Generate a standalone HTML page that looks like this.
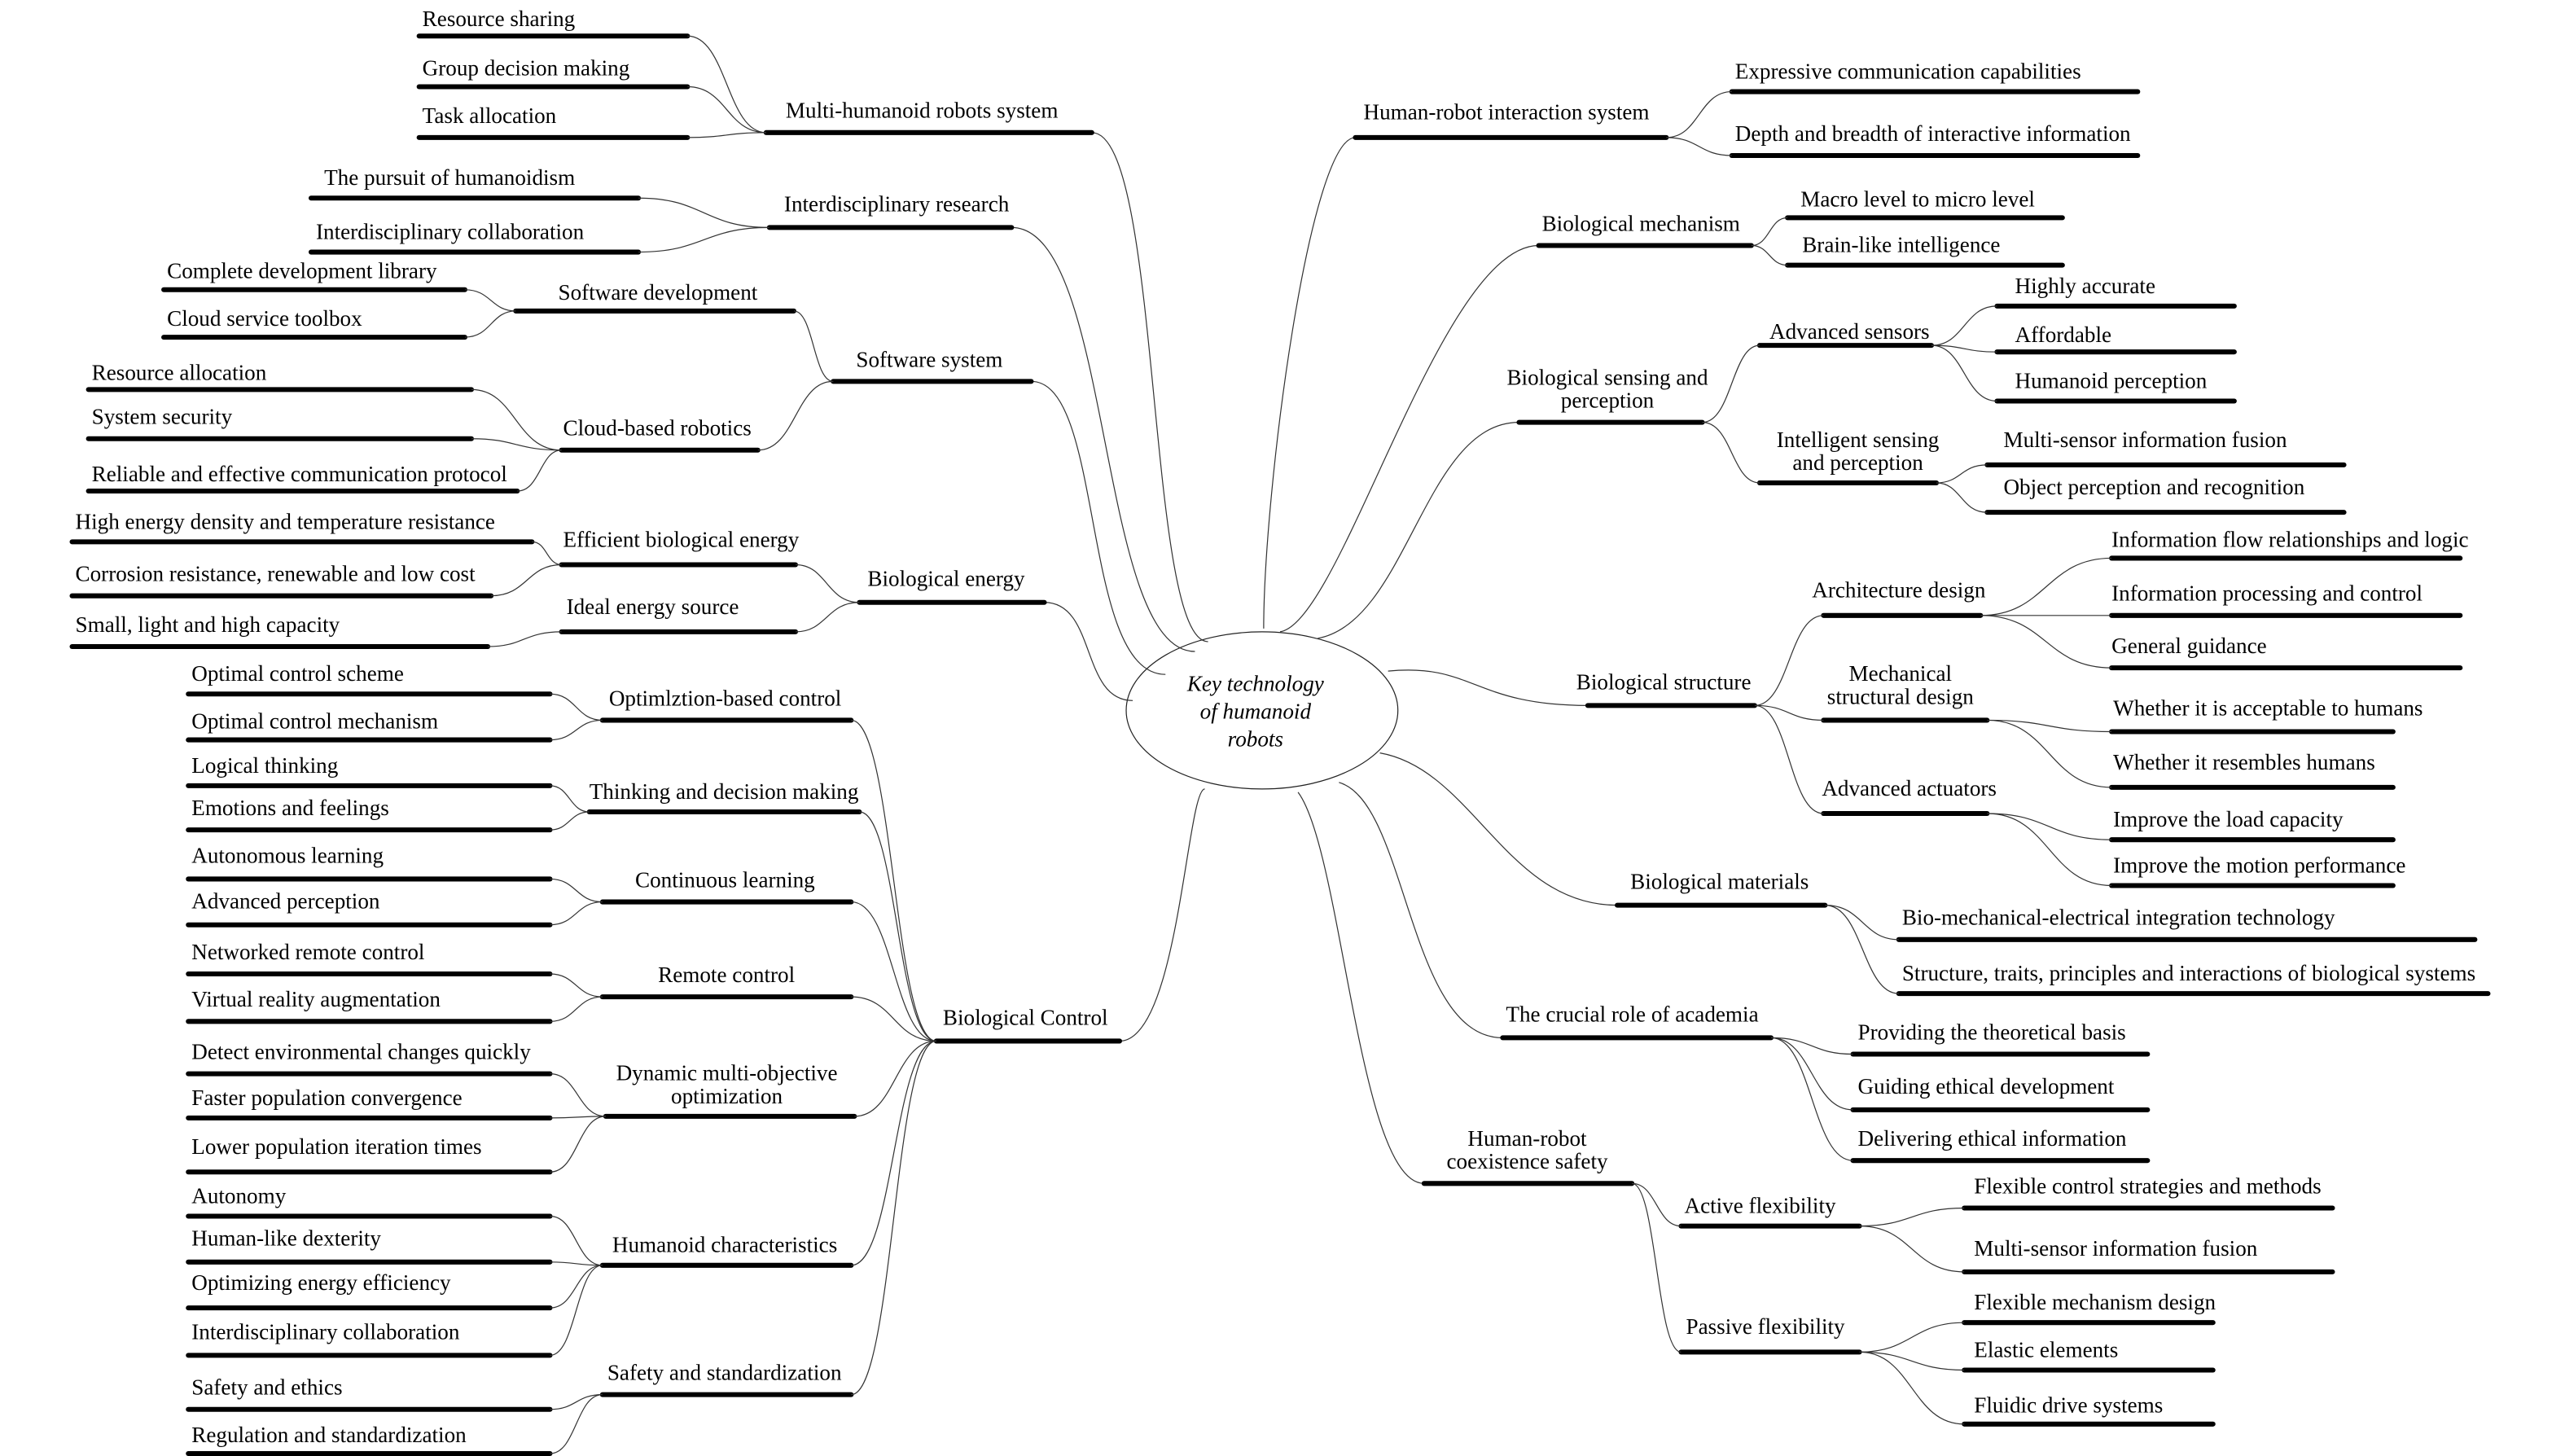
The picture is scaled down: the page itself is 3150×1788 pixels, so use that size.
<!DOCTYPE html>
<html><head><meta charset="utf-8"><style>
html,body{margin:0;padding:0;background:#fff;}
svg{display:block;}
text{font-family:"Liberation Serif",serif;font-size:13.5px;fill:#000;}
.u{stroke:#000;stroke-width:3;stroke-linecap:round;}
.c{fill:none;stroke:#333;stroke-width:0.6;}
.m{text-anchor:middle;}
</style></head><body>
<svg width="3150" height="1788" viewBox="0 0 1567 889.5" xmlns="http://www.w3.org/2000/svg">
<rect width="1567" height="889.5" fill="#fff"/>
<ellipse cx="771" cy="434" rx="83" ry="48" fill="none" stroke="#222" stroke-width="0.6"/>
<text x="767" y="422" class="m" font-style="italic">Key technology</text>
<text x="767" y="439" class="m" font-style="italic">of humanoid</text>
<text x="767" y="456" class="m" font-style="italic">robots</text>

<!-- center connectors -->
<path class="c" d="M667 81 C710 81,700 392,738 392"/>
<path class="c" d="M618 139 C680 139,670 398,730 398"/>
<path class="c" d="M630 233 C675 233,660 412,712 412"/>
<path class="c" d="M638 368 C670 368,660 428,692 428"/>
<path class="c" d="M684 636 C720 636,725 482,736 482"/>
<path class="c" d="M772 384 C772 300,800 84,828 84"/>
<path class="c" d="M782 386 C820 380,880 150,940 150"/>
<path class="c" d="M805 390 C860 380,870 258,928 258"/>
<path class="c" d="M848 410 C900 405,900 431,970 431"/>
<path class="c" d="M843 460 C900 470,920 553,988 553"/>
<path class="c" d="M818 478 C860 490,860 634,918 634"/>
<path class="c" d="M793 484 C820 520,830 723,870 723"/>

<!-- Multi-humanoid -->
<line class="u" x1="256" y1="22" x2="420" y2="22"/><text x="258" y="16">Resource sharing</text>
<line class="u" x1="256" y1="53" x2="420" y2="53"/><text x="258" y="46">Group decision making</text>
<line class="u" x1="256" y1="84" x2="420" y2="84"/><text x="258" y="75">Task allocation</text>
<line class="u" x1="468" y1="81" x2="667" y2="81"/><text x="480" y="72">Multi-humanoid robots system</text>
<path class="c" d="M420 22 C444 22,444 81,468 81"/><path class="c" d="M420 53 C444 53,444 81,468 81"/><path class="c" d="M420 84 C444 84,444 81,468 81"/>

<!-- Interdisciplinary research -->
<line class="u" x1="190" y1="121" x2="390" y2="121"/><text x="198" y="113">The pursuit of humanoidism</text>
<line class="u" x1="190" y1="154" x2="390" y2="154"/><text x="193" y="146">Interdisciplinary collaboration</text>
<line class="u" x1="470" y1="139" x2="618" y2="139"/><text x="479" y="129">Interdisciplinary research</text>
<path class="c" d="M390 121 C430 121,430 139,470 139"/><path class="c" d="M390 154 C430 154,430 139,470 139"/>

<!-- Software -->
<line class="u" x1="100" y1="177" x2="284" y2="177"/><text x="102" y="170">Complete development library</text>
<line class="u" x1="100" y1="206" x2="284" y2="206"/><text x="102" y="199">Cloud service toolbox</text>
<line class="u" x1="315" y1="190" x2="485" y2="190"/><text x="341" y="183">Software development</text>
<path class="c" d="M284 177 C300 177,300 190,315 190"/><path class="c" d="M284 206 C300 206,300 190,315 190"/>
<line class="u" x1="54" y1="238" x2="288" y2="238"/><text x="56" y="232">Resource allocation</text>
<line class="u" x1="54" y1="268" x2="288" y2="268"/><text x="56" y="259">System security</text>
<line class="u" x1="54" y1="300" x2="316" y2="300"/><text x="56" y="294">Reliable and effective communication protocol</text>
<line class="u" x1="343" y1="275" x2="463" y2="275"/><text x="344" y="266">Cloud-based robotics</text>
<path class="c" d="M288 238 C315 238,315 275,343 275"/><path class="c" d="M288 268 C315 268,315 275,343 275"/><path class="c" d="M316 300 C330 300,330 275,343 275"/>
<line class="u" x1="509" y1="233" x2="630" y2="233"/><text x="523" y="224">Software system</text>
<path class="c" d="M485 190 C497 190,497 233,509 233"/><path class="c" d="M463 275 C486 275,486 233,509 233"/>

<!-- Biological energy -->
<line class="u" x1="44" y1="331" x2="325" y2="331"/><text x="46" y="323">High energy density and temperature resistance</text>
<line class="u" x1="44" y1="364" x2="300" y2="364"/><text x="46" y="355">Corrosion resistance, renewable and low cost</text>
<line class="u" x1="44" y1="395" x2="298" y2="395"/><text x="46" y="386">Small, light and high capacity</text>
<line class="u" x1="343" y1="345" x2="486" y2="345"/><text x="344" y="334">Efficient biological energy</text>
<line class="u" x1="343" y1="386" x2="486" y2="386"/><text x="346" y="375">Ideal energy source</text>
<path class="c" d="M325 331 C334 331,334 345,343 345"/><path class="c" d="M300 364 C322 364,322 345,343 345"/><path class="c" d="M298 395 C320 395,320 386,343 386"/>
<line class="u" x1="525" y1="368" x2="638" y2="368"/><text x="530" y="358">Biological energy</text>
<path class="c" d="M486 345 C505 345,505 368,525 368"/><path class="c" d="M486 386 C505 386,505 368,525 368"/>

<!-- Biological control -->
<line class="u" x1="115" y1="424" x2="336" y2="424"/><text x="117" y="416">Optimal control scheme</text>
<line class="u" x1="115" y1="452" x2="336" y2="452"/><text x="117" y="445">Optimal control mechanism</text>
<line class="u" x1="368" y1="440" x2="520" y2="440"/><text x="372" y="431">Optimlztion-based control</text>
<path class="c" d="M336 424 C352 424,352 440,368 440"/><path class="c" d="M336 452 C352 452,352 440,368 440"/>
<line class="u" x1="115" y1="480" x2="336" y2="480"/><text x="117" y="472">Logical thinking</text>
<line class="u" x1="115" y1="507" x2="336" y2="507"/><text x="117" y="498">Emotions and feelings</text>
<line class="u" x1="360" y1="496" x2="525" y2="496"/><text x="360" y="488">Thinking and decision making</text>
<path class="c" d="M336 480 C348 480,348 496,360 496"/><path class="c" d="M336 507 C348 507,348 496,360 496"/>
<line class="u" x1="115" y1="537" x2="336" y2="537"/><text x="117" y="527">Autonomous learning</text>
<line class="u" x1="115" y1="565" x2="336" y2="565"/><text x="117" y="555">Advanced perception</text>
<line class="u" x1="368" y1="551" x2="520" y2="551"/><text x="388" y="542">Continuous learning</text>
<path class="c" d="M336 537 C352 537,352 551,368 551"/><path class="c" d="M336 565 C352 565,352 551,368 551"/>
<line class="u" x1="115" y1="595" x2="336" y2="595"/><text x="117" y="586">Networked remote control</text>
<line class="u" x1="115" y1="624" x2="336" y2="624"/><text x="117" y="615">Virtual reality augmentation</text>
<line class="u" x1="368" y1="609" x2="520" y2="609"/><text x="402" y="600">Remote control</text>
<path class="c" d="M336 595 C352 595,352 609,368 609"/><path class="c" d="M336 624 C352 624,352 609,368 609"/>
<line class="u" x1="115" y1="656" x2="336" y2="656"/><text x="117" y="647">Detect environmental changes quickly</text>
<line class="u" x1="115" y1="683" x2="336" y2="683"/><text x="117" y="675">Faster population convergence</text>
<line class="u" x1="115" y1="716" x2="336" y2="716"/><text x="117" y="705">Lower population iteration times</text>
<line class="u" x1="370" y1="682" x2="522" y2="682"/><text x="444" y="660" class="m">Dynamic multi-objective</text><text x="444" y="674" class="m">optimization</text>
<path class="c" d="M336 656 C353 656,353 682,370 682"/><path class="c" d="M336 683 C353 683,353 682,370 682"/><path class="c" d="M336 716 C353 716,353 682,370 682"/>
<line class="u" x1="115" y1="743" x2="336" y2="743"/><text x="117" y="735">Autonomy</text>
<line class="u" x1="115" y1="771" x2="336" y2="771"/><text x="117" y="761">Human-like dexterity</text>
<line class="u" x1="115" y1="799" x2="336" y2="799"/><text x="117" y="788">Optimizing energy efficiency</text>
<line class="u" x1="115" y1="828" x2="336" y2="828"/><text x="117" y="818">Interdisciplinary collaboration</text>
<line class="u" x1="368" y1="773" x2="520" y2="773"/><text x="374" y="765">Humanoid characteristics</text>
<path class="c" d="M336 743 C352 743,352 773,368 773"/><path class="c" d="M336 771 C352 771,352 773,368 773"/><path class="c" d="M336 799 C352 799,352 773,368 773"/><path class="c" d="M336 828 C352 828,352 773,368 773"/>
<line class="u" x1="115" y1="861" x2="336" y2="861"/><text x="117" y="852">Safety and ethics</text>
<line class="u" x1="115" y1="888" x2="336" y2="888"/><text x="117" y="881">Regulation and standardization</text>
<line class="u" x1="368" y1="852" x2="520" y2="852"/><text x="371" y="843">Safety and standardization</text>
<path class="c" d="M336 861 C352 861,352 852,368 852"/><path class="c" d="M336 888 C352 888,352 852,368 852"/>
<line class="u" x1="572" y1="636" x2="684" y2="636"/><text x="576" y="626">Biological Control</text>
<path class="c" d="M520 440 C546 440,546 636,572 636"/><path class="c" d="M525 496 C548 496,548 636,572 636"/><path class="c" d="M520 551 C546 551,546 636,572 636"/><path class="c" d="M520 609 C546 609,546 636,572 636"/><path class="c" d="M522 682 C547 682,547 636,572 636"/><path class="c" d="M520 773 C546 773,546 636,572 636"/><path class="c" d="M520 852 C546 852,546 636,572 636"/>

<!-- Right: HRI -->
<line class="u" x1="828" y1="84" x2="1018" y2="84"/><text x="833" y="73">Human-robot interaction system</text>
<line class="u" x1="1058" y1="56" x2="1306" y2="56"/><text x="1060" y="48">Expressive communication capabilities</text>
<line class="u" x1="1058" y1="95" x2="1306" y2="95"/><text x="1060" y="86">Depth and breadth of interactive information</text>
<path class="c" d="M1018 84 C1038 84,1038 56,1058 56"/><path class="c" d="M1018 84 C1038 84,1038 95,1058 95"/>

<line class="u" x1="940" y1="150" x2="1070" y2="150"/><text x="942" y="141">Biological mechanism</text>
<line class="u" x1="1092" y1="133" x2="1260" y2="133"/><text x="1100" y="126">Macro level to micro level</text>
<line class="u" x1="1092" y1="162" x2="1260" y2="162"/><text x="1101" y="154">Brain-like intelligence</text>
<path class="c" d="M1070 150 C1081 150,1081 133,1092 133"/><path class="c" d="M1070 150 C1081 150,1081 162,1092 162"/>

<line class="u" x1="928" y1="258" x2="1040" y2="258"/><text x="982" y="235" class="m">Biological sensing and</text><text x="982" y="249" class="m">perception</text>
<line class="u" x1="1075" y1="211" x2="1180" y2="211"/><text x="1081" y="207">Advanced sensors</text>
<line class="u" x1="1075" y1="295" x2="1183" y2="295"/><text x="1135" y="273" class="m">Intelligent sensing</text><text x="1135" y="287" class="m">and perception</text>
<path class="c" d="M1040 258 C1058 258,1058 211,1075 211"/><path class="c" d="M1040 258 C1058 258,1058 295,1075 295"/>
<line class="u" x1="1220" y1="187" x2="1365" y2="187"/><text x="1231" y="179">Highly accurate</text>
<line class="u" x1="1220" y1="215" x2="1365" y2="215"/><text x="1231" y="209">Affordable</text>
<line class="u" x1="1220" y1="245" x2="1365" y2="245"/><text x="1231" y="237">Humanoid perception</text>
<path class="c" d="M1180 211 C1200 211,1200 187,1220 187"/><path class="c" d="M1180 211 C1200 211,1200 215,1220 215"/><path class="c" d="M1180 211 C1200 211,1200 245,1220 245"/>
<line class="u" x1="1214" y1="284" x2="1432" y2="284"/><text x="1224" y="273">Multi-sensor information fusion</text>
<line class="u" x1="1214" y1="313" x2="1432" y2="313"/><text x="1224" y="302">Object perception and recognition</text>
<path class="c" d="M1183 295 C1198 295,1198 284,1214 284"/><path class="c" d="M1183 295 C1198 295,1198 313,1214 313"/>

<line class="u" x1="970" y1="431" x2="1072" y2="431"/><text x="963" y="421">Biological structure</text>
<line class="u" x1="1114" y1="376" x2="1210" y2="376"/><text x="1107" y="365">Architecture design</text>
<line class="u" x1="1114" y1="440" x2="1214" y2="440"/><text x="1161" y="416" class="m">Mechanical</text><text x="1161" y="430" class="m">structural design</text>
<line class="u" x1="1114" y1="497" x2="1214" y2="497"/><text x="1113" y="486">Advanced actuators</text>
<path class="c" d="M1072 431 C1093 431,1093 376,1114 376"/><path class="c" d="M1072 431 C1093 431,1093 440,1114 440"/><path class="c" d="M1072 431 C1093 431,1093 497,1114 497"/>
<line class="u" x1="1290" y1="341" x2="1503" y2="341"/><text x="1290" y="334">Information flow relationships and logic</text>
<line class="u" x1="1290" y1="376" x2="1503" y2="376"/><text x="1290" y="367">Information processing and control</text>
<line class="u" x1="1290" y1="408" x2="1503" y2="408"/><text x="1290" y="399">General guidance</text>
<path class="c" d="M1210 376 C1250 376,1250 341,1290 341"/><path class="c" d="M1210 376 L1290 376"/><path class="c" d="M1210 376 C1250 376,1250 408,1290 408"/>
<line class="u" x1="1290" y1="447" x2="1462" y2="447"/><text x="1291" y="437">Whether it is acceptable to humans</text>
<line class="u" x1="1290" y1="481" x2="1462" y2="481"/><text x="1291" y="470">Whether it resembles humans</text>
<path class="c" d="M1214 440 C1252 440,1252 447,1290 447"/><path class="c" d="M1214 440 C1252 440,1252 481,1290 481"/>
<line class="u" x1="1290" y1="513" x2="1462" y2="513"/><text x="1291" y="505">Improve the load capacity</text>
<line class="u" x1="1290" y1="541" x2="1462" y2="541"/><text x="1291" y="533">Improve the motion performance</text>
<path class="c" d="M1214 497 C1252 497,1252 513,1290 513"/><path class="c" d="M1214 497 C1252 497,1252 541,1290 541"/>

<line class="u" x1="988" y1="553" x2="1115" y2="553"/><text x="996" y="543">Biological materials</text>
<line class="u" x1="1160" y1="574" x2="1512" y2="574"/><text x="1162" y="565">Bio-mechanical-electrical integration technology</text>
<line class="u" x1="1160" y1="607" x2="1520" y2="607"/><text x="1162" y="599">Structure, traits, principles and interactions of biological systems</text>
<path class="c" d="M1115 553 C1138 553,1138 574,1160 574"/><path class="c" d="M1115 553 C1138 553,1138 607,1160 607"/>

<line class="u" x1="918" y1="634" x2="1082" y2="634"/><text x="920" y="624">The crucial role of academia</text>
<line class="u" x1="1132" y1="644" x2="1312" y2="644"/><text x="1135" y="635">Providing the theoretical basis</text>
<line class="u" x1="1132" y1="678" x2="1312" y2="678"/><text x="1135" y="668">Guiding ethical development</text>
<line class="u" x1="1132" y1="709" x2="1312" y2="709"/><text x="1135" y="700">Delivering ethical information</text>
<path class="c" d="M1082 634 C1107 634,1107 644,1132 644"/><path class="c" d="M1082 634 C1107 634,1107 678,1132 678"/><path class="c" d="M1082 634 C1107 634,1107 709,1132 709"/>

<line class="u" x1="870" y1="723" x2="997" y2="723"/><text x="933" y="700" class="m">Human-robot</text><text x="933" y="714" class="m">coexistence safety</text>
<line class="u" x1="1027" y1="749" x2="1136" y2="749"/><text x="1029" y="741">Active flexibility</text>
<line class="u" x1="1027" y1="826" x2="1136" y2="826"/><text x="1030" y="815">Passive flexibility</text>
<path class="c" d="M997 723 C1012 723,1012 749,1027 749"/><path class="c" d="M997 723 C1012 723,1012 826,1027 826"/>
<line class="u" x1="1200" y1="738" x2="1425" y2="738"/><text x="1206" y="729">Flexible control strategies and methods</text>
<line class="u" x1="1200" y1="777" x2="1425" y2="777"/><text x="1206" y="767">Multi-sensor information fusion</text>
<path class="c" d="M1136 749 C1168 749,1168 738,1200 738"/><path class="c" d="M1136 749 C1168 749,1168 777,1200 777"/>
<line class="u" x1="1200" y1="808" x2="1352" y2="808"/><text x="1206" y="800">Flexible mechanism design</text>
<line class="u" x1="1200" y1="837" x2="1352" y2="837"/><text x="1206" y="829">Elastic elements</text>
<line class="u" x1="1200" y1="870" x2="1352" y2="870"/><text x="1206" y="863">Fluidic drive systems</text>
<path class="c" d="M1136 826 C1168 826,1168 808,1200 808"/><path class="c" d="M1136 826 C1168 826,1168 837,1200 837"/><path class="c" d="M1136 826 C1168 826,1168 870,1200 870"/>
</svg>
</body></html>
